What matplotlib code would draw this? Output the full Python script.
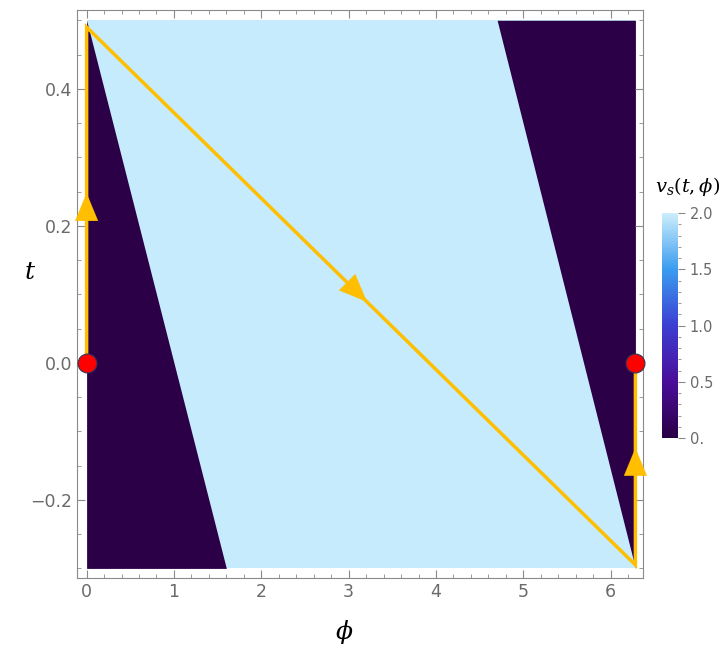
import numpy as np
import matplotlib
matplotlib.use("Agg")
import matplotlib.pyplot as plt
from matplotlib.colors import LinearSegmentedColormap, Normalize
from matplotlib.cm import ScalarMappable

plt.rcParams["mathtext.fontset"] = "dejavuserif"

# --- данные ---
T_RANGE = [-0.3, 0.5]
PHI_MAX = 2 * np.pi
# границы тёмных областей (phi при t = 0.5 и t = -0.3)
left_edge_phi = [0.0, 1.6]
right_edge_phi = [4.7, 2 * np.pi]
# путь (жёлтая линия)
path_phi = [0.0, 0.0, 2 * np.pi, 2 * np.pi]
path_t = [0.0, 0.49, -0.295, 0.0]
# стрелки: (phi, t, dphi, dt)
arrows = [(0.0, 0.213, 0.0, 0.035), (2.98, 0.118, 0.23, -0.029), (2 * np.pi, -0.16, 0.0, 0.036)]
dots_phi = [0.0, 2 * np.pi]
dots_t = [0.0, 0.0]
cbar_ticks = [0, 0.5, 1.0, 1.5, 2.0]
cbar_labels = ["0.", "0.5", "1.0", "1.5", "2.0"]

DARK = "#2c0047"
LIGHT = "#c6ebfc"
YELLOW = "#ffbf00"
GRAY = "#8a8a8a"

cmap = LinearSegmentedColormap.from_list(
    "vs", [(0, "#2a0044"), (0.25, "#4a0d9a"), (0.5, "#3c3fd2"), (0.75, "#3a9cf0"), (1.0, "#ccedfb")]
)

fig = plt.figure(figsize=(7.25, 6.55), dpi=100)
ax = fig.add_axes([77 / 725, 1 - 578 / 655, 566 / 725, 568 / 655])

t = np.array(T_RANGE)
ax.fill_betweenx(t, 0, PHI_MAX, color=LIGHT, lw=0)
ax.fill_betweenx(t, 0, left_edge_phi[::-1], color=DARK, lw=0)
ax.fill_betweenx(t, right_edge_phi[::-1], PHI_MAX, color=DARK, lw=0)

ax.plot(path_phi, path_t, color=YELLOW, lw=2.5, solid_joinstyle="miter", zorder=3)
for x0, y0, dx, dy in arrows:
    ax.annotate("", xy=(x0 + dx, y0 + dy), xytext=(x0, y0),
                arrowprops=dict(arrowstyle="-|>,head_length=0.8,head_width=0.33",
                                mutation_scale=25, color=YELLOW, lw=0.1,
                                shrinkA=0, shrinkB=0),
                zorder=4, annotation_clip=False)
ax.scatter(dots_phi, dots_t, s=185, color="red", edgecolor="#333355", lw=0.8,
           zorder=5, clip_on=False)

ax.set_xlim(-0.11, 6.37)
ax.set_ylim(-0.314, 0.515)
ax.set_xticks([0, 1, 2, 3, 4, 5, 6])
ax.set_yticks([-0.2, 0.0, 0.2, 0.4])
ax.set_xticks(np.arange(0, 6.4, 0.2), minor=True)
ax.set_yticks(np.arange(-0.3, 0.51, 0.05), minor=True)
ax.tick_params(which="both", direction="in", top=True, right=True, colors=GRAY,
               labelcolor="#6a6a6a", labelsize=12.5)
ax.tick_params(which="major", length=6)
ax.tick_params(which="minor", length=3)
for s in ax.spines.values():
    s.set_color(GRAY)

ax.set_xlabel(r"$\phi$", fontsize=18, va="center")
ax.set_ylabel(r"$t$", fontsize=18, rotation=0, va="center", ha="center")
ax.xaxis.set_label_coords(0.473, -0.095)
ax.yaxis.set_label_coords(-0.083, 0.539)

cax = fig.add_axes([662 / 725, 1 - 438 / 655, 16 / 725, 225 / 655])
cb = fig.colorbar(ScalarMappable(Normalize(0, 2), cmap), cax=cax, ticks=cbar_ticks)
cb.ax.set_yticklabels(cbar_labels)
cb.outline.set_visible(False)
cax.set_yticks(np.arange(0, 2.01, 0.1), minor=True)
cax.tick_params(which="both", direction="out", colors=GRAY, labelcolor="#6a6a6a", labelsize=10.5)
cax.tick_params(which="major", length=5)
cax.tick_params(which="minor", length=2.5)
fig.text(688 / 725, 1 - 186 / 655, r"$v_s(t,\phi)$", fontsize=14, ha="center", va="center")

fig.savefig("out.png", dpi=100)
